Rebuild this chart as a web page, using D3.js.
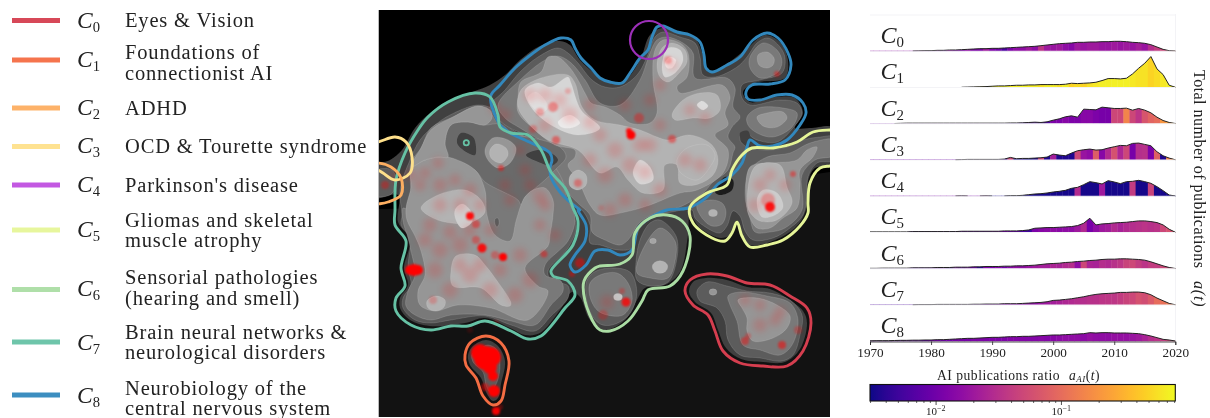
<!DOCTYPE html>
<html><head><meta charset="utf-8">
<script src="https://cdn.jsdelivr.net/npm/d3@7"></script>
<style>html,body{margin:0;background:#fff}svg{display:block}text{font-family:'Liberation Serif',serif;fill:#222}</style>
</head><body><svg id="c" width="1210" height="418"></svg>
<script>
// ---------- legend ----------
const clusterNames=[["Eyes & Vision"],["Foundations of","connectionist AI"],["ADHD"],["OCD & Tourette syndrome"],["Parkinson's disease"],["Gliomas and skeletal","muscle atrophy"],["Sensorial pathologies","(hearing and smell)"],["Brain neural networks &","neurological disorders"],["Neurobiology of the","central nervous system"]];
const legendColors=["#d53e4f","#f46d43","#fdae61","#fee08b","#c04fe0","#e6f598","#abdda4","#66c2a5","#3288bd"];
const years=d3.range(1970,2021);
// ---------- ridges: publications per year (relative height) ----------
const pubsC0=[0,0,0,0,0,0,0,0,.5,1,1,2,2,3,3,4,5,6,7,7,8,8,9,10,11,12,13,14,16,18,20,22,23,24,26,26,27,27,28,28,29,29,28,26,25,23,19,12,5,1,0];
const pubsC1=[0,0,0,0,0,0,0,0,0,0,0,0,0,0,0,0,.5,1,1.5,2,3,4,4,5,6,6,7,7,8,8,8,8,9,12,11,12,13,15,20,26,26,25,27,40,57,72,92,55,38,6,0];
const pubsC2=[0,0,0,0,0,.5,1,1,1,1,1,1,1,1,1,1,1,1,1,1,1,1,1,1.5,1.5,2,3,4,3,5,10,14,20,23,19,43,42,41,49,47,45,45,46,40,45,40,32,19,9,3,0];
const pubsC3=[0,0,0,0,0,0,0,0,0,0,0,0,0,0,0,.5,1,1,1,1,1,1,2,7,3,4,4,5,6,8,17,14,12,20,27,30,32,29,30,35,39,43,42,49,50,46,42,24,12,5,0];
const pubsC4=[0,0,0,0,0,0,0,0,0,0,0,0,0,0,0,.5,0,0,0,.5,0,0,0,1,1,2,4,6,7,9,12,14,17,23,26,34,43,40,36,46,42,37,43,44,47,43,38,28,16,3,0];
const pubsC5=[1,1,1,1,1,1,1,2,2,2,2,2,2,2,2,3,3,3,3,3,3,3,4,4,4,5,7,12,13,14,14,15,16,17,20,27,42,22,25,26,28,29,30,32,34,34,32,29,22,9,0];
const pubsC6=[.5,.5,1,1,1,1,1,2,2,2,2,3,3,3,4,4,4,5,5,6,6,6,7,7,8,8,9,10,12,14,15,16,18,19,21,22,24,25,27,28,28,29,29,28,27,25,20,14,8,3,0];
const pubsC7=[0,0,0,0,0,0,0,0,.5,.5,.5,1,1,1,1,1,1,1.5,1.5,2,2,2,3,3,3,4,5,6,7,9,13,14,16,18,21,24,28,31,33,34,35,37,37,38,38,36,30,20,12,4,0];
const pubsC8=[.5,1,1,1,1.5,2,2,2.5,2.5,3,3,4,4,5,6,7,8,8,9,10,11,11,12,13,13,14,14,15,16,17,18,18,19,20,21,22,25,24,25,25,24,24,24,23,22,19,15,10,5,3,0];
// ---------- ridges: AI publications ratio per year ----------
const aiC0=[.016,.016,.016,.016,.016,.016,.016,.016,.016,.016,.01,.012,.008,.016,.012,.012,.016,.012,.012,.02,.012,.01,.006,.012,.016,.016,.02,.016,.035,.02,.018,.02,.016,.014,.02,.018,.02,.02,.018,.018,.02,.018,.02,.018,.022,.018,.03,.04,.05,.07,.1];
const aiC1=[.7,.7,.7,.7,.7,.7,.7,.7,.7,.7,.7,.7,.7,.7,.7,.7,.7,.7,.7,.7,.75,.7,.75,.7,.7,.75,.7,.7,.6,.7,.7,.6,.7,.5,.55,.5,.6,.65,.7,.7,.72,.72,.72,.65,.6,.6,.5,.55,.65,.7,.7];
const aiC2=[.01,.01,.01,.01,.01,.01,.01,.01,.01,.01,.01,.01,.01,.01,.01,.01,.01,.01,.01,.01,.005,.005,.005,.005,.005,.005,.006,.006,.005,.006,.012,.012,.014,.012,.012,.014,.014,.012,.011,.011,.05,.05,.15,.05,.035,.065,.085,.1,.2,.25,.3];
const aiC3=[.01,.01,.01,.01,.01,.01,.01,.01,.01,.01,.01,.01,.01,.01,.01,.01,.01,.01,.01,.01,.005,.005,.005,.05,.003,.0035,.003,.0035,.05,.0035,.022,.0035,.0035,.0035,.05,.018,.016,.075,.014,.028,.06,.026,.05,.011,.03,.032,.012,.08,.0035,.15,.2];
const aiC4=[.012,.012,.012,.012,.012,.012,.012,.012,.012,.012,.012,.012,.012,.012,.012,.012,.012,.012,.012,.012,.0032,.0032,.0032,.0032,.0032,.0032,.0032,.0032,.0032,.0032,.0032,.0032,.0032,.0032,.028,.0032,.0032,.0032,.02,.0032,.0032,.0032,.0032,.04,.0032,.0032,.045,.0032,.0032,.0032,.0032];
const aiC5=[.006,.006,.006,.006,.006,.006,.006,.006,.006,.006,.008,.008,.008,.008,.008,.008,.008,.008,.008,.008,.01,.01,.01,.009,.008,.006,.005,.012,.014,.015,.016,.015,.016,.016,.02,.028,.011,.016,.02,.022,.028,.024,.028,.03,.032,.034,.032,.034,.05,.06,.08];
const aiC6=[.006,.006,.006,.006,.006,.006,.006,.006,.006,.006,.007,.007,.008,.004,.01,.008,.01,.009,.004,.012,.011,.013,.01,.014,.016,.016,.018,.02,.022,.022,.025,.024,.028,.03,.016,.05,.025,.024,.03,.028,.032,.036,.045,.05,.04,.034,.04,.04,.05,.05,.06];
const aiC7=[.006,.006,.006,.006,.006,.006,.006,.006,.006,.006,.006,.006,.007,.007,.008,.008,.008,.009,.01,.01,.012,.012,.013,.014,.014,.015,.016,.016,.018,.02,.022,.024,.026,.028,.03,.03,.032,.032,.035,.036,.036,.04,.045,.05,.06,.055,.07,.1,.11,.13,.15];
const aiC8=[.008,.008,.008,.008,.008,.008,.008,.008,.008,.008,.01,.01,.01,.01,.011,.011,.011,.012,.012,.012,.012,.012,.012,.013,.013,.013,.013,.013,.014,.013,.014,.015,.016,.016,.016,.015,.017,.016,.016,.016,.017,.017,.017,.018,.02,.024,.03,.034,.04,.05,.06];
const ridgeLabels=["C0","C1","C2","C3","C4","C5","C6","C7","C8"];
const ridgePubs=[pubsC0,pubsC1,pubsC2,pubsC3,pubsC4,pubsC5,pubsC6,pubsC7,pubsC8];
const ridgeAi=[aiC0,aiC1,aiC2,aiC3,aiC4,aiC5,aiC6,aiC7,aiC8];
const axisYears=[1970,1980,1990,2000,2010,2020];
// ---------- map: traced density contours (map units) ----------
const blobMainL1=[[378,165],[390,160],[402,150],[415,128],[430,113],[450,100],[475,91],[490,85],[505,75],[520,60],[540,46],[560,41],[570,45],[580,60],[597,75],[610,82],[625,80],[640,60],[650,35],[662,28],[680,33],[695,38],[703,55],[708,72],[725,65],[745,50],[765,35],[780,42],[788,60],[785,78],[755,83],[743,92],[750,102],[775,97],[795,98],[803,113],[795,128],[810,128],[835,128],[835,165],[815,168],[807,185],[806,210],[795,228],[770,242],[750,245],[742,235],[737,220],[730,235],[720,238],[700,228],[690,215],[688,235],[680,272],[665,285],[645,288],[637,300],[625,320],[605,330],[590,320],[580,297],[572,292],[560,310],[540,333],[525,335],[510,328],[485,318],[465,323],[430,326],[410,320],[400,308],[400,298],[408,285],[404,268],[410,240],[398,222],[398,195],[372,198]];
const blobBottomL1=[[468,355],[473,346],[486,340],[498,346],[505,361],[501,384],[498,398],[493,401],[487,394],[481,378],[470,365]];
const blobEyesL1=[[689,292],[693,282],[706,278],[727,280],[747,287],[770,289],[788,299],[803,311],[807,323],[800,349],[785,362],[763,362],[741,359],[726,348],[718,330],[711,313],[695,302]];
const leftL2=[[402,215],[400,190],[410,160],[420,140],[435,125],[450,115],[478,105],[495,110],[510,128],[530,140],[545,155],[555,180],[570,205],[576,228],[568,248],[548,271],[551,280],[568,286],[568,298],[551,316],[535,331],[511,325],[485,316],[451,320],[431,323],[415,320],[403,308],[403,298],[411,285],[408,268],[410,238],[401,225]];
const rightL2=[[490,107],[505,90],[520,72],[538,57],[558,48],[568,53],[578,63],[592,80],[605,87],[620,87],[637,75],[647,57],[655,37],[663,32],[680,37],[695,43],[700,57],[703,75],[715,77],[737,67],[747,57],[757,43],[768,38],[780,47],[785,58],[782,73],[760,80],[742,85],[742,98],[750,105],[780,100],[797,103],[802,113],[793,128],[777,142],[757,140],[743,132],[740,140],[747,147],[767,150],[787,147],[803,140],[820,137],[835,137],[835,160],[817,163],[808,177],[807,193],[803,215],[790,228],[773,238],[753,240],[745,231],[740,216],[733,211],[727,226],[720,233],[707,228],[695,218],[692,210],[672,212],[655,216],[640,228],[632,248],[618,250],[600,245],[590,243],[590,225],[582,210],[575,205],[560,185],[553,165],[545,150],[525,135],[505,125]];
const lowerL2=[[596,271],[615,268],[630,272],[636,285],[636,300],[628,316],[612,325],[600,324],[590,312],[586,295],[587,280]];
const greenL2=[[640,240],[650,223],[660,220],[676,236],[677,258],[668,282],[650,286],[637,280],[636,262]];
const edgeL2=[[372,172],[392,170],[396,185],[390,195],[372,195]];
const bottomL2=[[472,354],[478,350],[488,345],[497,350],[500,365],[497,382],[490,392],[486,385],[483,372],[473,362]];
const eyesL2=[[697,291],[707,282],[727,286],[747,291],[770,293],[790,300],[802,315],[800,335],[793,355],[782,361],[760,358],[740,355],[728,340],[725,321],[717,308],[700,301]];
const leftL3=[[410,210],[411,163],[421,148],[431,128],[453,117],[478,106],[490,112],[498,124],[511,132],[528,137],[541,143],[555,150],[566,157],[563,180],[568,200],[573,210],[575,221],[568,241],[545,265],[545,275],[561,281],[563,291],[551,305],[535,325],[511,321],[485,315],[451,315],[431,320],[415,315],[406,306],[408,291],[415,275],[411,251],[408,238],[403,221],[403,208]];
const rightL3=[[498,105],[520,80],[545,60],[558,56],[570,62],[585,80],[600,103],[620,105],[640,80],[650,53],[657,40],[667,37],[683,43],[693,53],[695,78],[727,78],[735,88],[733,107],[740,117],[732,127],[728,137],[735,147],[733,153],[728,170],[713,182],[703,193],[680,207],[660,212],[640,222],[628,240],[620,245],[605,240],[592,232],[590,215],[580,205],[570,195],[560,175],[555,165],[560,150],[540,140],[520,128],[505,118]];
const peakTopRightL3=[[750,57],[763,43],[777,50],[782,62],[777,73],[760,78],[750,68]];
const peakRightL3=[[747,117],[758,108],[783,108],[797,113],[792,127],[773,137],[757,133],[748,125]];
const gliomaL3=[[750,170],[767,157],[790,153],[810,143],[835,140],[835,155],[815,160],[802,175],[802,210],[785,228],[770,232],[755,232],[750,218],[745,195]];
const smallL3=[[697,205],[702,218],[712,226],[722,224],[726,212],[722,203],[710,200]];
const greenL3=[[660,228],[675,241],[675,261],[668,278],[650,278],[637,273],[642,251]];
const lowerL3=[[600,275],[617,273],[628,283],[632,301],[623,315],[607,315],[597,310],[590,297],[590,283]];
const eyesL3=[[728,296],[740,292],[767,296],[790,303],[798,320],[792,345],[780,355],[760,350],[743,345],[737,321],[730,305]];
const valleyLeft=[[445,143],[451,125],[468,122],[485,125],[500,124],[516,136],[528,137],[560,147],[566,157],[555,170],[545,180],[533,190],[525,197],[521,205],[518,200],[485,182],[475,170],[448,157]];
const leftL4=[[406,208],[411,187],[411,167],[425,160],[438,157],[448,157],[475,170],[485,190],[487,215],[495,235],[510,241],[516,221],[521,205],[525,197],[533,190],[545,188],[553,200],[553,215],[550,235],[548,246],[525,268],[538,286],[548,291],[528,320],[491,308],[458,305],[435,311],[420,305],[418,291],[425,275],[421,251],[415,236],[407,220]];
const bandTopL4=[[431,130],[453,117],[478,106],[490,110],[492,118],[485,125],[468,122],[451,125],[445,143],[448,157],[438,157],[425,160],[411,167],[421,148]];
const bumpL4=[[485,150],[493,138],[508,140],[516,148],[510,163],[498,168],[488,160]];
const rightL4=[[518,97],[521,82],[541,72],[548,57],[558,57],[570,68],[578,80],[586,95],[591,103],[605,107],[620,115],[630,123],[650,123],[657,113],[653,80],[655,50],[663,40],[680,43],[688,53],[687,77],[677,87],[680,93],[722,85],[730,97],[725,113],[728,125],[715,135],[728,150],[723,173],[697,190],[680,193],[650,205],[625,212],[600,215],[590,205],[578,180],[568,165],[575,157],[575,150],[555,145],[535,130],[518,112]];
const peakTopRightL4=[[758,55],[767,52],[774,58],[773,65],[767,68],[759,65]];
const peakRightL4=[[757,117],[767,113],[783,112],[787,118],[777,127],[763,126]];
const gliomaL4=[[750,167],[773,163],[797,160],[807,150],[817,147],[813,157],[800,170],[800,187],[797,208],[783,218],[770,228],[757,228],[750,218],[747,208]];
const eyesL4=[[738,300],[757,298],[777,305],[790,316],[787,328],[773,338],[753,341],[747,331],[747,318],[742,308]];
const rightL5=[[518,107],[521,90],[541,78],[568,75],[575,83],[582,107],[595,120],[620,125],[640,130],[657,137],[668,140],[690,135],[712,145],[718,160],[713,175],[695,185],[680,183],[677,165],[665,165],[663,190],[643,193],[628,180],[617,167],[600,173],[578,150],[548,140],[530,125]];
const leftRidgeL5=[[451,271],[456,256],[475,255],[485,265],[495,278],[511,303],[510,306],[501,305],[481,288],[453,286]];
const leftTopL5=[[421,208],[438,195],[465,190],[481,200],[485,212],[472,222],[451,223],[433,218]];
const bumpL5=[[490,150],[496,144],[506,148],[508,155],[501,163],[491,158]];
const peakTopL5=[[657,65],[662,48],[672,43],[685,50],[687,62],[680,72],[668,82],[660,77]];
const peakMidL5=[[672,115],[683,100],[700,93],[717,95],[720,110],[710,118],[693,118],[675,120]];
const gliomaL5=[[750,177],[757,165],[780,165],[787,187],[792,203],[777,220],[760,221],[752,215],[748,208]];
const centreL5=[[677,160],[687,148],[707,145],[715,155],[710,167],[697,180],[680,172]];
const spotL5=[[570,176],[578,170],[586,175],[586,185],[578,190],[570,186]];
const spotSwL5=[[427,301],[436,296],[445,300],[444,307],[436,311],[428,308]];
const ridgeL6=[[525,90],[538,83],[551,87],[568,77],[571,83],[581,110],[600,128],[578,135],[551,125],[531,107]];
const peakTopL6=[[662,67],[668,48],[680,50],[683,60],[675,73],[665,77]];
const spotL6=[[633,173],[640,160],[650,167],[653,180],[640,184]];
const gliomaL6=[[757,200],[763,190],[777,193],[783,207],[775,215],[762,217]];
const coreL7=[[558,122],[570,115],[580,123],[571,128],[561,127]];
const coreBL7=[[528,97],[536,92],[548,107],[541,113],[531,105]];
const peakTopL7=[[665,63],[670,57],[676,60],[672,68],[667,68]];
const peakMidL7=[[697,105],[702,101],[708,106],[703,110]];
const leftCoreL7=[[455,210],[462,204],[470,210],[472,222],[462,228],[456,220]];
// dark holes in the density
const holeA=[[457,140],[461,133],[473,137],[476,147],[475,155],[468,153],[458,145]];
const holeB=[[526,155],[538,150],[551,153],[558,160],[551,166],[541,163]];
const holeC=[[715,192],[725,177],[733,180],[732,190],[720,195]];
const holeD=[[740,133],[748,131],[750,143],[743,142]];
const holeE=[[495,219],[498,218],[499,224],[497,227],[495,224]];
const densityLayers=[[0,blobMainL1],[0,blobBottomL1],[0,blobEyesL1],[1,leftL2],[1,rightL2],[1,lowerL2],[1,greenL2],[1,edgeL2],[1,bottomL2],[1,eyesL2],
 [2,leftL3],[2,rightL3],[2,peakTopRightL3],[2,peakRightL3],[2,gliomaL3],[2,smallL3],[2,greenL3],[2,lowerL3],[2,eyesL3],
 [1.5,valleyLeft],[0,holeA],[0,holeB],[-1,holeC],[0,holeD],[1,holeE],
 [3,leftL4],[3,bandTopL4],[3,bumpL4],[3,rightL4],[3,peakTopRightL4],[3,peakRightL4],[3,gliomaL4],[3,eyesL4],
 [4,rightL5],[4,leftRidgeL5],[4,leftTopL5],[4,bumpL5],[4,peakTopL5],[4,peakMidL5],[4,gliomaL5],[4,centreL5],[4,spotL5],[4,spotSwL5],
 [5,ridgeL6],[5,peakTopL6],[5,spotL6],[4.7,gliomaL6],[5.7,coreL7],[5.3,coreBL7],[5.7,peakTopL7],[5.2,peakMidL7],[4.8,leftCoreL7]];
// small isolated peaks [x, y, radius, level]
const densitySpots=[[713,292,3.5,3],[713,213,4,4],[660,267,7,4],[653,241,3,3.5],[618,297,4,4.5]];
// publications: strong points [x,y,r,opacity]
const hotPoints=[[486,358,12,1],[480,353,9,1],[491,357,10,1],[490,367,7,1],[493,376,5,1],[494,391,6,1],[485,387,4,.7],[496,411,4,.95],[500,407,3,.4],[410,270,5,1],[414,270,6,1],[418,270,5,1],[470,216,4,.95],[476,224,4,.6],[482,248,4.5,.9],[503,257,4,1],[544,254,3.5,.6],[495,255,4,.45],[476,240,4,.5],[580,263,5,.7],[572,274,3,.6],[631,135,4.5,1],[629,131,3,.9],[672,139,4,.6],[639,118,5,.5],[777,74,3,.6],[793,174,3,.6],[770,207,5,.9],[768,200,7,.4],[626,302,4.5,.8],[622,291,3,.4],[603,315,5,.4],[782,345,4,.75],[745,341,4,.6],[748,336,3,.4],[798,330,4,.4],[501,168,3,.7],[556,140,4,.6],[578,183,4,.5],[553,107,5,.5],[540,112,4,.4],[568,91,3,.3],[533,129,4,.4],[385,185,4,.5],[668,60,4,.4],[601,208,3,.2],[496,323,3,.3],[470,330,3,.2],[433,300,4,.3]];
// publications: faint haze
const hazePoints=[[411,175,5],[425,173,5],[438,163,5],[395,178,5],[420,185,5],[440,185,6],[455,180,5],[470,190,6],[495,108,5],[505,115,5],[525,170,5],[505,185,5],[530,185,5],[540,197,6],[545,205,5],[430,225,6],[450,232,6],[470,230,6],[490,230,5],[440,250,7],[425,240,6],[460,245,7],[500,270,6],[520,255,6],[530,280,7],[515,295,7],[490,290,7],[470,275,7],[460,265,6],[480,265,6],[450,290,7],[435,270,7],[540,225,5],[555,235,5],[460,205,6],[440,205,6],[480,205,5],[530,95,6],[545,95,6],[560,100,6],[545,125,6],[570,115,7],[590,122,6],[600,135,6],[615,150,7],[630,165,7],[645,172,6],[605,175,7],[590,160,6],[650,145,6],[660,125,5],[640,145,6],[690,110,5],[705,118,5],[685,160,6],[700,165,6],[650,100,5],[660,85,5],[625,105,5],[760,185,6],[770,175,5],[755,205,6],[785,185,5],[745,300,5],[760,305,5],[775,320,5],[760,325,6],[780,312,5],[625,200,6],[610,210,6],[645,205,5],[607,302,6],[672,65,5],[660,190,6],[590,105,5],[520,150,4],[510,200,5]];
// cluster outlines
const outlineC0=[[685,291],[690,280],[707,274],[727,276],[747,283],[770,285],[790,296],[807,308],[811,323],[803,351],[787,366],[763,366],[740,363],[723,351],[715,331],[708,315],[693,305]];
const outlineC1=[[465,355],[470,343],[486,336],[501,343],[509,361],[505,385],[501,401],[493,405],[483,396],[476,378],[466,365]];
const outlineC2=[[368,164],[378,163],[391,167],[401,178],[401,195],[388,202],[378,204],[368,205]];
const outlineC3=[[368,143],[378,142],[395,137],[406,142],[412,157],[410,173],[395,180],[383,173],[378,170],[368,166]];
const outlineC5=[[840,130],[830,130],[813,132],[797,142],[773,148],[752,148],[742,155],[732,170],[727,185],[707,193],[690,207],[693,223],[712,238],[725,241],[732,233],[737,222],[742,236],[750,247],[767,245],[783,240],[800,226],[808,213],[808,203],[810,183],[820,168],[830,166],[840,165]];
const outlineC6=[[600,266],[620,264],[632,255],[635,233],[650,218],[667,215],[682,221],[690,236],[683,271],[670,286],[648,290],[642,301],[628,321],[610,331],[600,330],[595,325],[585,301],[584,281],[595,268]];
const outlineC7=[[395,210],[396,180],[405,153],[418,130],[428,117],[448,102],[475,93],[490,97],[498,115],[500,127],[511,133],[528,135],[541,150],[551,172],[565,188],[573,208],[578,221],[573,245],[551,271],[553,276],[568,281],[575,295],[565,308],[541,336],[528,339],[511,331],[485,321],[468,326],[451,326],[431,330],[411,325],[396,311],[396,298],[405,286],[401,268],[406,241],[395,225]];
const outlineC8=[[580,210],[571,203],[560,192],[551,177],[550,168],[552,160],[550,153],[538,146],[525,140],[510,133],[500,125],[495,115],[491,103],[491,95],[500,85],[515,68],[528,57],[545,45],[561,38],[571,40],[575,48],[581,58],[591,68],[600,78],[610,82],[622,83],[630,73],[640,58],[648,50],[652,37],[657,27],[663,26],[677,32],[690,35],[700,42],[704,55],[706,68],[712,72],[727,65],[740,57],[753,40],[767,33],[778,38],[788,53],[791,65],[785,80],[770,84],[752,85],[746,92],[748,99],[760,100],[777,95],[792,95],[803,103],[806,113],[800,125],[787,140],[773,146],[760,146],[750,140],[747,147],[742,163],[732,175],[717,185],[707,197],[688,208],[667,210],[650,218],[638,228],[632,250],[620,255],[608,250],[595,251],[586,265],[575,272],[570,265],[575,255],[585,241],[586,225],[578,210]];
const outlineC4Centre=[[649,40]];
const ringC7=[[466.3,142.7]];

// ---------- drawing ----------
const svg=d3.select("#c");
const panel={x0:379,x1:830,y0:10,y1:417};
const mapX=d3.scaleLinear().domain([379,830]).range([panel.x0,panel.x1]);
const mapY=d3.scaleLinear().domain([10,417]).range([panel.y0,panel.y1]);
const defs=svg.append("defs");
defs.append("clipPath").attr("id","mapClip").append("rect").attr("x",panel.x0).attr("y",panel.y0).attr("width",panel.x1-panel.x0).attr("height",panel.y1-panel.y0);
defs.append("filter").attr("id","b1").attr("x","-10%").attr("y","-10%").attr("width","120%").attr("height","120%").append("feGaussianBlur").attr("stdDeviation",.7);
defs.append("filter").attr("id","b2").attr("x","-10%").attr("y","-10%").attr("width","120%").attr("height","120%").append("feGaussianBlur").attr("stdDeviation",1.3);
defs.append("filter").attr("id","b3").attr("x","-10%").attr("y","-10%").attr("width","120%").attr("height","120%").append("feGaussianBlur").attr("stdDeviation",3.2);
const closed=d3.line().x(d=>mapX(d[0])).y(d=>mapY(d[1])).curve(d3.curveCatmullRomClosed.alpha(.5));
const open=d3.line().x(d=>mapX(d[0])).y(d=>mapY(d[1])).curve(d3.curveCatmullRom.alpha(.5));
const levelColor=d3.scaleLinear().domain([-1,0,1,2,3,4,5,6]).range(["#1c1c1c","#3f3f3f","#5c5c5c","#797979","#969696","#b3b3b3","#d6d6d6","#f4f4f4"]);

// map
const map=svg.append("g").attr("clip-path","url(#mapClip)");
svg.insert("rect","g").attr("x",378).attr("y",10).attr("width",1).attr("height",407).attr("fill","#bbb");
map.append("rect").attr("x",panel.x0).attr("y",panel.y0).attr("width",panel.x1-panel.x0).attr("height",panel.y1-panel.y0).attr("fill","#121212");
const blackZone=[[379,10],[830,10],[830,172],[600,205],[379,209]];
map.append("path").attr("d",d3.line().x(d=>mapX(d[0])).y(d=>mapY(d[1]))(blackZone)+"Z").attr("fill","#000");
const dens=map.append("g").attr("filter","url(#b1)");
dens.selectAll("path").data(densityLayers).join("path").attr("d",d=>closed(d[1])).attr("fill",d=>levelColor(d[0])).attr("stroke",d=>d[0]>=1?"#e8e8e8":"none").attr("stroke-opacity",.2).attr("stroke-width",.8);
dens.selectAll("ellipse").data(densitySpots).join("ellipse").attr("cx",d=>mapX(d[0])).attr("cy",d=>mapY(d[1])).attr("rx",d=>d[2]*1.1).attr("ry",d=>d[2]*.9).attr("fill",d=>levelColor(d[3])).attr("stroke","#e8e8e8").attr("stroke-opacity",.2).attr("stroke-width",.8);
map.append("g").attr("filter","url(#b3)").selectAll("circle").data(hazePoints).join("circle").attr("cx",d=>mapX(d[0])).attr("cy",d=>mapY(d[1])).attr("r",d=>d[2]+1).attr("fill","#ff1010").attr("opacity",.15);
map.append("g").attr("filter","url(#b2)").selectAll("circle").data(hotPoints).join("circle").attr("cx",d=>mapX(d[0])).attr("cy",d=>mapY(d[1])).attr("r",d=>d[2]).attr("fill","#ff0000").attr("opacity",d=>d[3]<.8?d[3]*.7:d[3]);
const outlines=map.append("g").attr("fill","none").attr("stroke-width",2.9);
[[outlineC8,8],[outlineC7,7],[outlineC6,6],[outlineC0,0],[outlineC1,1]].forEach(o=>outlines.append("path").attr("d",closed(o[0])).attr("stroke",legendColors[o[1]]));
[[outlineC5,5],[outlineC3,3],[outlineC2,2]].forEach(o=>outlines.append("path").attr("d",open(o[0])).attr("stroke",legendColors[o[1]]));
outlines.append("circle").attr("cx",mapX(outlineC4Centre[0][0])).attr("cy",mapY(outlineC4Centre[0][1])).attr("r",19).attr("stroke","#9c2fb8").attr("stroke-width",2.2);
outlines.append("circle").attr("cx",mapX(ringC7[0][0])).attr("cy",mapY(ringC7[0][1])).attr("r",2.6).attr("stroke",legendColors[7]).attr("stroke-width",1.8);

// legend
function cLabel(g,x,y,n,size){
  const t=g.append("text").attr("x",x).attr("y",y).attr("font-size",size).attr("font-style","italic").attr("fill","#222").text("C");
  t.append("tspan").attr("font-style","normal").attr("font-size",size*.62).attr("dy",size*.17).text(n);
}
const legendSwatchY=[20.5,60,108,146.5,185,230,289.5,342,395];
const legendCY=[28,67,115,153,192,237,296,350,403];
const legendTextY=[[27],[59,80],[115],[153],[192],[227,247],[284,305],[339,359],[395,415]];
const legend=svg.append("g");
clusterNames.forEach((lines,i)=>{
  legend.append("line").attr("x1",12).attr("x2",60).attr("y1",legendSwatchY[i]).attr("y2",legendSwatchY[i]).attr("stroke",legendColors[i]).attr("stroke-width",5).attr("stroke-opacity",.95);
  cLabel(legend,77,legendCY[i],i,23.5);
  lines.forEach((s,j)=>legend.append("text").attr("x",125).attr("y",legendTextY[i][j]).attr("font-size",20.5).attr("letter-spacing",.83).text(s));
});

// ridges
const xT=d3.scaleLinear().domain([1970,2020]).range([870,1175.3]);
const hT=d3.scaleLinear().domain([0,92]).range([0,30.7]);
const cT=d3.scaleLog().domain([.00297,.81]).range([0,1]).clamp(true);
const baselines=ridgeLabels.map((_,i)=>51+36.25*i);
const ridges=svg.append("g");
ridges.append("line").attr("x1",1175.5).attr("x2",1175.5).attr("y1",14).attr("y2",341).attr("stroke","#f3f3f6");
ridgeLabels.forEach((lab,i)=>{
  const g=ridges.append("g");
  const b=baselines[i];
  g.append("line").attr("x1",870).attr("x2",1175).attr("y1",b-36.5+.5).attr("y2",b-36.5+.5).attr("stroke","#f3f3f6");
  const vals=ridgePubs[i];
  const area=d3.area().x((d,k)=>xT(years[k])).y0(b+.2).y1(d=>b-Math.max(hT(d),.2));
  const id="cl"+i;
  defs.append("clipPath").attr("id",id).append("path").attr("d",area(vals));
  g.append("g").attr("clip-path","url(#"+id+")").selectAll("rect").data(years).join("rect")
    .attr("x",y=>xT(y-.5)).attr("width",xT(1971)-xT(1970)+.4).attr("y",b-34).attr("height",35)
    .attr("fill",(y,k)=>d3.interpolatePlasma(cT(ridgeAi[i][k])));
  const line=d3.line().defined((d,k)=>d>0||vals[k-1]>0||vals[k+1]>0).x((d,k)=>xT(years[k])).y(d=>b-hT(d));
  g.append("path").attr("d",line(vals)).attr("fill","none").attr("stroke","#222").attr("stroke-width",1);
  cLabel(g,880.5,b-8,lab.slice(1),24);
});
const axis=d3.axisBottom(xT).tickValues(axisYears).tickFormat(d3.format("d")).tickSize(3.5).tickPadding(3);
const ax=svg.append("g").attr("transform","translate(0,341.5)").call(axis);
ax.selectAll("text").attr("font-size",13.2).attr("font-family","'Liberation Serif'").attr("fill","#222");
ax.selectAll("line,path").attr("stroke","#222").attr("stroke-width",.8);

// colour bar
const barTitle=svg.append("text").attr("x",937).attr("y",380).attr("font-size",13.6).attr("letter-spacing",.5).text("AI publications ratio  ");
barTitle.append("tspan").attr("font-style","italic").attr("dx",5).text("a");
barTitle.append("tspan").attr("font-style","italic").attr("font-size",9).attr("dy",2).text("AI");
barTitle.append("tspan").attr("dy",-2).text("(");
barTitle.append("tspan").attr("font-style","italic").text("t");
barTitle.append("tspan").text(")");
const barX=d3.scaleLog().domain([.00297,.81]).range([870,1175.3]);
defs.append("linearGradient").attr("id","plasma").selectAll("stop").data(d3.range(0,1.01,.05)).join("stop").attr("offset",d=>d).attr("stop-color",d=>d3.interpolatePlasma(d));
svg.append("rect").attr("x",870).attr("y",384.5).attr("width",305.3).attr("height",16.5).attr("fill","url(#plasma)").attr("stroke","#111").attr("stroke-width",1.1);
const minorTicks=[.003,.004,.005,.006,.007,.008,.009,.02,.03,.04,.05,.06,.07,.08,.09,.2,.3,.4,.5,.6,.7,.8];
svg.append("g").selectAll("line").data(minorTicks).join("line").attr("x1",d=>barX(d)).attr("x2",d=>barX(d)).attr("y1",401).attr("y2",403).attr("stroke","#222").attr("stroke-width",.7);
[[.01,"\u22122"],[.1,"\u22121"]].forEach(([v,e])=>{
  svg.append("line").attr("x1",barX(v)).attr("x2",barX(v)).attr("y1",401).attr("y2",405).attr("stroke","#222").attr("stroke-width",.8);
  const t=svg.append("text").attr("x",barX(v)-10).attr("y",415).attr("font-size",11).attr("fill","#333").text("10");
  t.append("tspan").attr("font-size",8).attr("dy",-4).text(e);
});
// right label
svg.append("text").attr("transform","translate(1194,70) rotate(90)").attr("font-size",16).attr("letter-spacing",.48).text("Total number of publications");
svg.append("text").attr("transform","translate(1194,281) rotate(90)").attr("font-size",16).attr("font-style","italic").attr("letter-spacing",.8).text("a(t)");
</script></body></html>
